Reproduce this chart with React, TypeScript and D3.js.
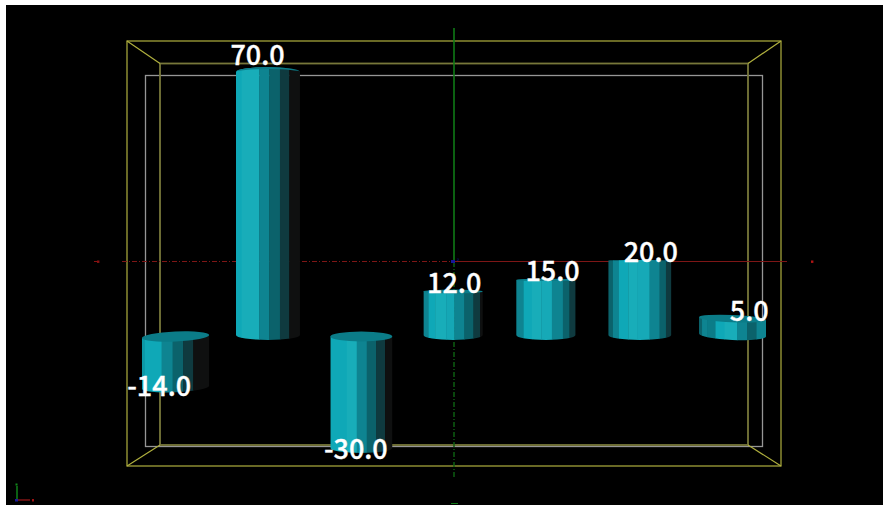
import React from "react";
import * as d3 from "d3";

// ---- data ----
const categories = ["A", "B", "C", "D", "E", "F", "G"];
const values = [-14, 70, -30, 12, 15, 20, 5];

// ---- styling / layout constants (facet edges are offsets from each bar's band centre) ----
const W = 883, H = 505;
const C1 = "#0fa8b7", C2 = "#18adb9", C3 = "#0e8491", C4 = "#0b626b", C5 = "#0f3a3f", C6 = "#0f1010", C0 = "#0b7c88";
const facetEdges: number[][] = [
  [-33.5, -30.5, -13.8, -2.8, 7.8, 17.8, 33.8],
  [-32.2, -26.5, -8.9, 1.1, 11.8, 21.1, 31.8],
  [-30.6, -14.2, -4.2, 5.8, 15.1, 24.1, 31.4],
  [-30.3, -25.3, -18.6, -7.6, 0.7, 10.7, 19.7, 26.4, 29],
  [-30.3, -23, -14.6, -5.3, 5.4, 16.4, 23, 29],
  [-31, -26.3, -20.3, -11, -1.7, 10.3, 20.3, 26.7, 32],
  [-33, -30, -25, -16.7, -7.4, 5, 15, 24.3, 34],
];
const facetColors: string[][] = [
  ["#0c98a6", C1, C3, C4, C5, C6],
  [C1, C2, C3, C4, C5, C6],
  [C1, C2, C3, C4, C5, C6],
  [C3, C1, C2, "#15a7b5", C3, C4, C5, C6],
  [C3, C1, C2, "#16a9b7", C3, C4, C5],
  [C4, C3, C1, C2, "#16a9b7", C3, C4, C5],
  [C4, C3, C0, C1, C2, C3, C4, C3],
];
const tilts = [-3, 0, 0, 0, 0, 0, 3];

const x = d3.scaleBand<string>().domain(categories).range([129, 778.4]);
const y = d3.scaleLinear().domain([-30, 0, 70]).range([452, 338, 67]);
const HORIZON = 262;

const arcRy = (py: number) => Math.max(0.6, Math.min(5, Math.abs(py - HORIZON) * 0.065));

const Bar = ({ cat, v, i }: { cat: string; v: number; i: number }) => {
  const c = (x(cat) as number) + x.bandwidth() / 2;
  const edges = facetEdges[i];
  const cols = facetColors[i];
  const x0 = c + edges[0], x1 = c + edges[edges.length - 1];
  const rx = (x1 - x0) / 2, mx = (x0 + x1) / 2;
  const tilt = tilts[i];
  const a = (Math.atan2(tilt, x1 - x0) * 180) / Math.PI;
  const id = `clip${i}`;

  // top edge (y of the rim ends) and bottom edge (y of the rim ends)
  const above = v > 0 && y(v) < HORIZON - 10;
  const rt = arcRy(y(Math.max(v, 0)));
  const edgeTop = v > 0 ? (above ? y(v) + rt : y(v)) : y(0) - 1.5;
  const rb = 5;
  const edgeBot = v > 0 ? y(0) - 3 : y(v) - 4;

  const body = `M${x0},${edgeTop - tilt / 2} A${rx},${above ? rt : 0.6} ${a} 0 1 ${x1},${edgeTop + tilt / 2} L${x1},${edgeBot + tilt / 2} A${rx},${rb} ${a} 0 1 ${x0},${edgeBot - tilt / 2} Z`;
  return (
    <g>
      <clipPath id={id}>
        <path d={body} />
      </clipPath>
      <g clipPath={`url(#${id})`}>
        {cols.map((col, k) => (
          <rect key={k} x={c + edges[k]} width={edges[k + 1] - edges[k] + 0.4} y={edgeTop - 10} height={edgeBot - edgeTop + 25} fill={col} />
        ))}
      </g>
      {above ? (
        <path d={`M${x0},${edgeTop} A${rx},${rt} 0 0 1 ${x1},${edgeTop} A${rx},${rt - 2} 0 0 0 ${x0},${edgeTop} Z`} fill={C0} />
      ) : (
        rt > 1 && <ellipse cx={mx} cy={edgeTop} rx={rx} ry={rt} fill={C0} transform={`rotate(${a} ${mx} ${edgeTop})`} />
      )}
    </g>
  );
};

const Label = ({ cat, v }: { cat: string; v: number }) => {
  const c = (x(cat) as number) + x.bandwidth() / 2;
  const py = y(v);
  const lx = c + (c - 454) * 0.06 + 0.5;
  const ly = py + (py - HORIZON) * (py > HORIZON ? 0.03 : 0.015) + 1;
  return (
    <text x={lx} y={ly} textAnchor="middle" fill="#fff" stroke="#fff" strokeWidth={0.35} fontFamily="'Noto Sans CJK SC', 'Noto Sans', sans-serif" fontWeight={500} fontSize={27}>
      {v.toFixed(1)}
    </text>
  );
};

export default function App() {
  const Y1 = "#b0b03e", Y2 = "#78783a", G = "#969696";
  const GR = "#0f7a16", GRD = "#0c5e12", RD = "#7e1616";
  return (
    <svg width={W} height={H} style={{ position: "fixed", left: 0, top: 0, background: "#fff" }}>
      <rect x={6} y={5} width={W - 6} height={H - 5} fill="#000" />
      {/* back grey frame */}
      <rect x={145.5} y={75.5} width={617} height={371} fill="none" stroke={G} strokeWidth={1.3} />
      {/* yellow box */}
      <rect x={160} y={63.5} width={588} height={381.5} fill="none" stroke={Y2} strokeWidth={1.8} />
      <rect x={127} y={41} width={654} height={425} fill="none" stroke={Y1} strokeWidth={1.2} />
      {([[127, 41, 160, 63.5], [781, 41, 748, 63.5], [127, 466, 160, 445], [781, 466, 748, 445]] as number[][]).map((l, i) => (
        <line key={i} x1={l[0]} y1={l[1]} x2={l[2]} y2={l[3]} stroke={Y1} strokeWidth={1.2} />
      ))}
      {/* axes */}
      <line x1={454} y1={28} x2={454} y2={262} stroke={GR} strokeWidth={1.6} />
      <line x1={454} y1={262} x2={454} y2={478} stroke={GRD} strokeWidth={1.5} strokeDasharray="5 2 1 2" />
      <line x1={454} y1={261.5} x2={787} y2={261.5} stroke={RD} strokeWidth={1.1} />
      <line x1={122} y1={261.5} x2={454} y2={261.5} stroke={RD} strokeWidth={1.1} strokeDasharray="5 2 1 2" />
      <rect x={451} y={260} width={4} height={3} fill="#16169a" />
      <text x={457} y={261} fill="#16169a" fontSize={4} fontFamily="DejaVu Sans">z</text>
      <rect x={811} y={260.5} width={2.4} height={2.4} fill="#b01414" />
      <rect x={94} y={261} width={3} height={1} fill="#8a1212" />
      <rect x={97} y={260.5} width={2.4} height={2.4} fill="#8a1212" />
      <line x1={451} y1={503.5} x2={458} y2={503.5} stroke={GR} strokeWidth={1} />
      {/* bars */}
      {categories.map((c, i) => (
        <Bar key={c} cat={c} v={values[i]} i={i} />
      ))}
      {/* labels */}
      {categories.map((c, i) => (
        <Label key={c} cat={c} v={values[i]} />
      ))}
      {/* origin triad */}
      <line x1={16} y1={500} x2={30} y2={500} stroke="#8a1616" strokeWidth={1.4} />
      <line x1={17} y1={500} x2={17} y2={486} stroke="#128a1c" strokeWidth={1.4} />
      <rect x={15} y={499} width={3} height={2.5} fill="#1a1a9a" />
      <rect x={32} y={499} width={2} height={2.5} fill="#a01212" />
      <rect x={15.5} y={483.5} width={2} height={2} fill="#128a1c" />
    </svg>
  );
}
